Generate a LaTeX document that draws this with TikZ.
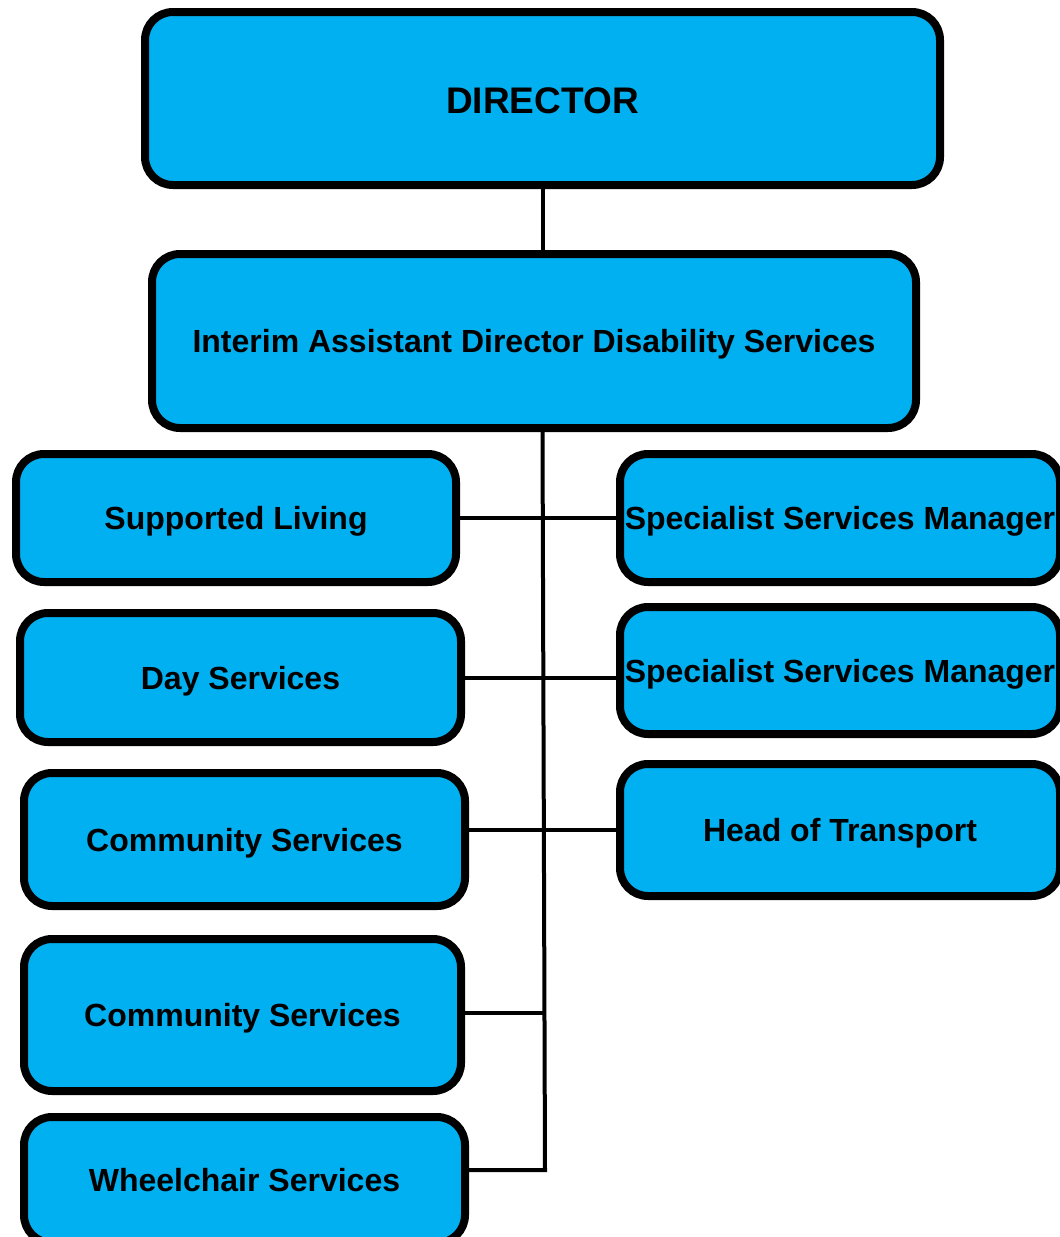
\documentclass[tikz,border=0pt]{standalone}
\usepackage{fontspec}
\setmainfont{Liberation Sans}
\definecolor{boxblue}{HTML}{00B0F0}
\begin{document}
\begin{tikzpicture}[x=1pt,y=-1pt,
  orgbox/.style={draw=black,fill=boxblue,line width=8pt,rounded corners=28pt,
    inner sep=0pt,text height=26pt,text depth=3pt,
    font=\fontsize{32}{38}\selectfont\bfseries},
  conn/.style={draw=black,line width=4pt}]
\useasboundingbox (0,0) rectangle (1060,1237);
% nodes: centre, width/height = outer size minus line width
\node[orgbox,minimum width=795pt,minimum height=173pt,text height=29pt,text depth=0pt,font=\fontsize{37}{42}\selectfont\bfseries] (dir) at (542.5,98.5) {DIRECTOR};
\node[orgbox,minimum width=764pt,minimum height=174pt] (ia) at (534,341) {Interim Assistant Director Disability Services};
\node[orgbox,minimum width=440pt,minimum height=128pt] (sl) at (236,518) {Supported Living};
\node[orgbox,minimum width=441pt,minimum height=129pt] (ds) at (240.5,677.5) {Day Services};
\node[orgbox,minimum width=441pt,minimum height=133pt] (cs1) at (244.5,839.5) {Community Services};
\node[orgbox,minimum width=437pt,minimum height=152pt] (cs2) at (242.5,1015) {Community Services};
\node[orgbox,minimum width=441pt,minimum height=126pt] (wc) at (244.5,1180) {Wheelchair Services};
\node[orgbox,minimum width=440pt,minimum height=128pt] (ssm1) at (840,518) {Specialist Services Manager};
\node[orgbox,minimum width=440pt,minimum height=127pt] (ssm2) at (840,670.5) {Specialist Services Manager};
\node[orgbox,minimum width=440pt,minimum height=132pt] (hot) at (840,830) {Head of Transport};
\coordinate (trunkend) at (545,1170);
% connectors
\draw[conn] (dir.south) -- (dir.south |- ia.north);
\draw[conn] (ia.south -| dir.south) -- (trunkend) -- (trunkend -| wc.east);
\draw[conn] (sl.east) -- (ssm1.west);
\draw[conn] ([yshift=-0.5pt]ds.east) -- ([yshift=-0.5pt]ds.east -| ssm2.west);
\draw[conn] (hot.west -| cs1.east) -- (hot.west);
\draw[conn] ([yshift=2pt]cs2.east) -- ([yshift=2pt]cs2.east -| trunkend);
\end{tikzpicture}
\end{document}
